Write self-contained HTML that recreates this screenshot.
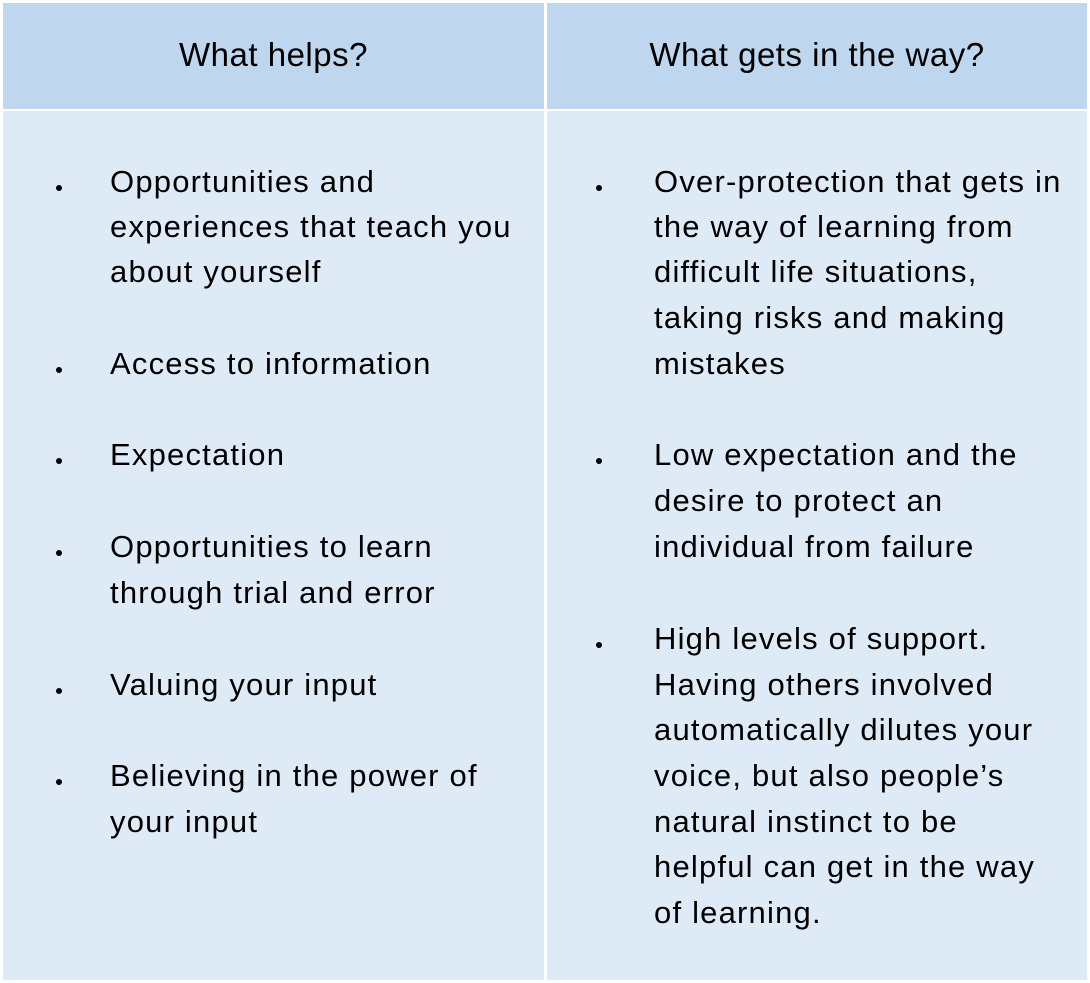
<!DOCTYPE html>
<html><head><meta charset="utf-8"><style>
body{margin:0;width:1090px;height:983px;background:#fff;position:relative;overflow:hidden;font-family:"Liberation Sans",sans-serif;color:#000}
.b{position:absolute}
.h{background:#bed6ee}
.c{background:#deebf7}
.ht{position:absolute;top:36px;font-size:33px;letter-spacing:0.5px;text-align:center;line-height:38px}
.l{position:absolute;font-size:31px;letter-spacing:1.2px;line-height:46px;white-space:nowrap;height:46px}
.d{position:absolute;width:6px;height:6px;border-radius:50%;background:#000}
</style></head><body>
<div class="b h" style="left:3px;top:3px;width:541px;height:106px"></div>
<div class="b h" style="left:547px;top:3px;width:540px;height:106px"></div>
<div class="b c" style="left:3px;top:111px;width:541px;height:869px"></div>
<div class="b c" style="left:547px;top:111px;width:540px;height:869px"></div>
<div class="ht" style="left:3px;width:541px">What helps?</div>
<div class="ht" style="left:547px;width:540px">What gets in the way?</div>

<div class="d" style="left:56px;top:185px"></div>
<div class="l" style="left:110px;top:159px">Opportunities and</div>
<div class="l" style="left:110px;top:204px">experiences that teach you</div>
<div class="l" style="left:110px;top:249px">about yourself</div>
<div class="d" style="left:56px;top:367px"></div>
<div class="l" style="left:110px;top:341px">Access to information</div>
<div class="d" style="left:56px;top:458px"></div>
<div class="l" style="left:110px;top:432px">Expectation</div>
<div class="d" style="left:56px;top:550px"></div>
<div class="l" style="left:110px;top:524px">Opportunities to learn</div>
<div class="l" style="left:110px;top:570px">through trial and error</div>
<div class="d" style="left:56px;top:688px"></div>
<div class="l" style="left:110px;top:662px">Valuing your input</div>
<div class="d" style="left:56px;top:779px"></div>
<div class="l" style="left:110px;top:753px">Believing in the power of</div>
<div class="l" style="left:110px;top:799px">your input</div>

<div class="d" style="left:596px;top:185px"></div>
<div class="l" style="left:654px;top:159px">Over-protection that gets in</div>
<div class="l" style="left:654px;top:204px">the way of learning from</div>
<div class="l" style="left:654px;top:249px">difficult life situations,</div>
<div class="l" style="left:654px;top:295px">taking risks and making</div>
<div class="l" style="left:654px;top:341px">mistakes</div>
<div class="d" style="left:596px;top:458px"></div>
<div class="l" style="left:654px;top:432px">Low expectation and the</div>
<div class="l" style="left:654px;top:478px">desire to protect an</div>
<div class="l" style="left:654px;top:524px">individual from failure</div>
<div class="d" style="left:596px;top:642px"></div>
<div class="l" style="left:654px;top:616px">High levels of support.</div>
<div class="l" style="left:654px;top:662px">Having others involved</div>
<div class="l" style="left:654px;top:707px">automatically dilutes your</div>
<div class="l" style="left:654px;top:753px">voice, but also people’s</div>
<div class="l" style="left:654px;top:799px">natural instinct to be</div>
<div class="l" style="left:654px;top:844px">helpful can get in the way</div>
<div class="l" style="left:654px;top:890px">of learning.</div>
</body></html>
